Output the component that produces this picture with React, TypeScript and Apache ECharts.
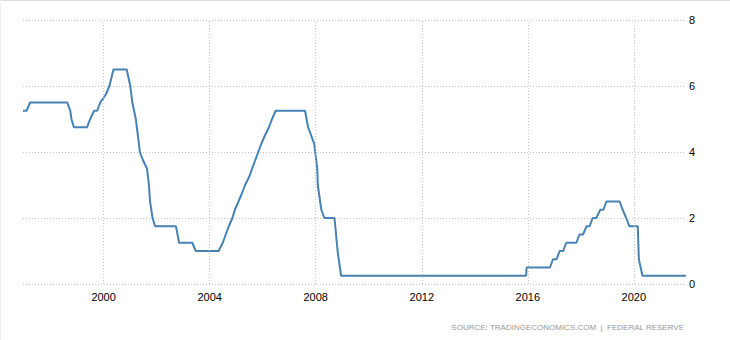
import React, { useEffect, useRef } from "react";
import * as echarts from "echarts";

// Federal funds rate (upper target), vertices
const rateDates: string[] = [
  "1996-12-17", "1997-02-05", "1997-03-25", "1998-08-18", "1998-09-29", "1998-10-15",
  "1998-11-17", "1999-05-18", "1999-06-30", "1999-08-24", "1999-10-05", "1999-11-16",
  "2000-02-02", "2000-03-21", "2000-05-16", "2000-11-15", "2001-01-03", "2001-01-31",
  "2001-03-20", "2001-04-18", "2001-05-15", "2001-06-27", "2001-08-21", "2001-09-17",
  "2001-10-02", "2001-11-06", "2001-12-11", "2002-09-24", "2002-11-06", "2003-05-06",
  "2003-06-25", "2004-05-04", "2004-06-30", "2004-08-10", "2004-09-21", "2004-11-10",
  "2004-12-14", "2005-02-02", "2005-03-22", "2005-05-03", "2005-06-30", "2005-08-09",
  "2005-09-20", "2005-11-01", "2005-12-13", "2006-01-31", "2006-03-28", "2006-05-10",
  "2006-06-29", "2007-08-07", "2007-09-18", "2007-10-31", "2007-12-11", "2008-01-22",
  "2008-01-30", "2008-03-18", "2008-04-30", "2008-09-16", "2008-10-08", "2008-10-29",
  "2008-12-16", "2015-12-09", "2015-12-16", "2016-11-02", "2016-12-14", "2017-02-01",
  "2017-03-15", "2017-05-03", "2017-06-14", "2017-11-01", "2017-12-13", "2018-01-31",
  "2018-03-21", "2018-05-02", "2018-06-13", "2018-08-01", "2018-09-26", "2018-11-08",
  "2018-12-19", "2019-06-19", "2019-07-31", "2019-09-18", "2019-10-30", "2020-02-24",
  "2020-03-10", "2020-04-29", "2021-12-20",
];

const rateValues: number[] = [
  5.25, 5.25, 5.5, 5.5, 5.25, 5.0,
  4.75, 4.75, 5.0, 5.25, 5.25, 5.5,
  5.75, 6.0, 6.5, 6.5, 6.0, 5.5,
  5.0, 4.5, 4.0, 3.75, 3.5, 3.0,
  2.5, 2.0, 1.75, 1.75, 1.25, 1.25,
  1.0, 1.0, 1.25, 1.5, 1.75, 2.0,
  2.25, 2.5, 2.75, 3.0, 3.25, 3.5,
  3.75, 4.0, 4.25, 4.5, 4.75, 5.0,
  5.25, 5.25, 4.75, 4.5, 4.25, 3.5,
  3.0, 2.25, 2.0, 2.0, 1.5, 1.0,
  0.25, 0.25, 0.5, 0.5, 0.75, 0.75,
  1.0, 1.0, 1.25, 1.25, 1.5, 1.5,
  1.75, 1.75, 2.0, 2.0, 2.25, 2.25,
  2.5, 2.5, 2.25, 2.0, 1.75, 1.75,
  0.75, 0.25, 0.25,
];

const yearTicks: number[] = [2000, 2004, 2008, 2012, 2016, 2020];

const yTicks = { min: 0, max: 8, interval: 2 };

const sourceText = "SOURCE: TRADINGECONOMICS.COM  |  FEDERAL RESERVE";

// date string -> fractional year (unit conversion for a value axis)
function toYear(d: string): number {
  const [y, m, day] = d.split("-").map(Number);
  const start = Date.UTC(y, 0, 1);
  const end = Date.UTC(y + 1, 0, 1);
  return y + (Date.UTC(y, m - 1, day) - start) / (end - start);
}

export default function App() {
  const ref = useRef<HTMLDivElement>(null);

  useEffect(() => {
    document.body.style.margin = "0";
    if (!ref.current) return;
    const chart = echarts.init(ref.current, undefined, { renderer: "svg" });
    const font = "'Liberation Sans', Arial, sans-serif";
    const gridStyle = { type: [1, 2] as number[], color: "#c4c4c4", width: 1 };
    const points = rateDates.map((d, i) => [toYear(d), rateValues[i]]);

    chart.setOption({
      animation: false,
      backgroundColor: "#ffffff",
      grid: { left: 23, right: 44, top: 20, bottom: 56, containLabel: false },
      xAxis: {
        type: "value",
        min: "dataMin",
        max: "dataMax",
        axisLine: { show: false },
        axisTick: { show: false },
        splitLine: { show: false },
        axisLabel: {
          customValues: yearTicks,
          formatter: (v: number) => String(Math.round(v)),
          color: "#000",
          fontSize: 11,
          fontFamily: font,
          margin: 7,
        },
      },
      yAxis: {
        type: "value",
        position: "right",
        min: yTicks.min,
        max: yTicks.max,
        interval: yTicks.interval,
        axisLine: { show: false },
        axisTick: { show: false },
        splitLine: { show: true, lineStyle: gridStyle },
        axisLabel: { color: "#000", fontSize: 11, fontFamily: font, margin: 3 },
      },
      graphic: [
        {
          type: "line",
          shape: { x1: 0, y1: 0.5, x2: 730, y2: 0.5 },
          style: { stroke: "#dcdcdc", lineWidth: 1 },
          silent: true,
        },
        {
          type: "line",
          shape: { x1: 0.5, y1: 0, x2: 0.5, y2: 340 },
          style: { stroke: "#f0f0f0", lineWidth: 1 },
          silent: true,
        },
        {
          type: "text",
          style: {
            text: sourceText,
            x: 684,
            y: 327,
            align: "right",
            verticalAlign: "middle",
            fill: "#999999",
            font: `8px ${font}`,
          },
          silent: true,
        },
      ],
      series: [
        {
          type: "line",
          data: [],
          z: 1,
          silent: true,
          markLine: {
            silent: true,
            symbol: ["none", "none"],
            label: { show: false },
            lineStyle: gridStyle,
            emphasis: { disabled: true },
            data: yearTicks.map((y) => ({ xAxis: y })),
          },
        },
        {
          type: "line",
          z: 3,
          data: points,
          showSymbol: false,
          symbol: "none",
          lineStyle: { color: "#4682b4", width: 2 },
          itemStyle: { color: "#4682b4" },
        },
      ],
    });

    return () => chart.dispose();
  }, []);

  return <div ref={ref} style={{ width: 730, height: 340 }} />;
}
